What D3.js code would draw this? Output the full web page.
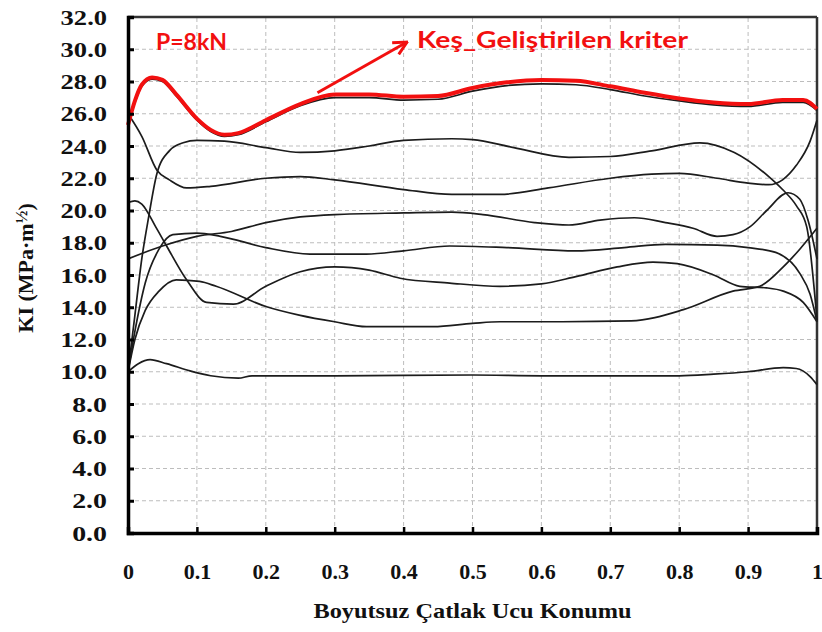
<!DOCTYPE html>
<html><head><meta charset="utf-8">
<script src="https://cdn.jsdelivr.net/npm/d3@7"></script>
<style>body{margin:0;background:#fff}</style>
</head><body><svg id="c" width="822" height="632"></svg>
<script>
// ---------- data ----------
const xTicks = [0,0.1,0.2,0.3,0.4,0.5,0.6,0.7,0.8,0.9,1];
const xTickLabels = ["0","0.1","0.2","0.3","0.4","0.5","0.6","0.7","0.8","0.9","1"];
const yTicks = [0,2,4,6,8,10,12,14,16,18,20,22,24,26,28,30,32];
const yTickLabels = ["0.0","2.0","4.0","6.0","8.0","10.0","12.0","14.0","16.0","18.0","20.0","22.0","24.0","26.0","28.0","30.0","32.0"];

// red envelope: "Keş_Geliştirilen kriter"
const envelope = [[0,25.3],[0.01,26.8],[0.02,27.8],[0.035,28.25],[0.05,28.1],[0.07,27.2],[0.1,25.7],[0.12,25.0],[0.14,24.7],[0.16,24.8],[0.2,25.6],[0.25,26.6],[0.3,27.2],[0.35,27.2],[0.4,27.05],[0.45,27.1],[0.5,27.6],[0.55,27.95],[0.6,28.1],[0.65,28.05],[0.7,27.7],[0.75,27.3],[0.8,26.95],[0.85,26.7],[0.9,26.6],[0.95,26.85],[0.98,26.85],[1,26.3]];
// black curves
const curveA = [[0,25.4],[0.01,26.7],[0.02,27.7],[0.035,28.15],[0.05,28.0],[0.07,27.1],[0.1,25.6],[0.12,24.9],[0.14,24.6],[0.16,24.7],[0.2,25.5],[0.25,26.5],[0.3,27.0],[0.35,27.0],[0.4,26.85],[0.45,26.9],[0.5,27.4],[0.55,27.75],[0.6,27.85],[0.65,27.8],[0.7,27.5],[0.75,27.1],[0.8,26.8],[0.85,26.55],[0.9,26.45],[0.95,26.7],[0.98,26.7],[1,26.2]];
const curveB = [[0,26.0],[0.02,24.6],[0.042,22.5],[0.06,21.9],[0.085,21.4],[0.12,21.5],[0.2,22.0],[0.25,22.1],[0.3,21.9],[0.4,21.3],[0.47,21.0],[0.54,21.0],[0.61,21.4],[0.7,22.0],[0.76,22.25],[0.8,22.3],[0.855,22.0],[0.9,21.7],[0.93,21.6],[0.95,21.9],[0.97,22.8],[0.99,24.3],[1,25.6]];
const curveC = [[0,10.0],[0.01,13.5],[0.02,17.0],[0.03,19.6],[0.042,22.3],[0.06,23.7],[0.08,24.2],[0.1,24.35],[0.14,24.3],[0.2,23.9],[0.25,23.6],[0.3,23.7],[0.35,24.0],[0.4,24.35],[0.47,24.45],[0.5,24.4],[0.56,23.9],[0.64,23.3],[0.7,23.35],[0.76,23.7],[0.83,24.2],[0.88,23.6],[0.93,22.1],[0.95,21.3],[0.97,20.3],[0.985,19.0],[1,13.2]];
const curveD = [[0,17.0],[0.05,17.8],[0.1,18.4],[0.15,18.7],[0.2,19.25],[0.25,19.6],[0.3,19.75],[0.4,19.85],[0.47,19.9],[0.515,19.75],[0.59,19.25],[0.64,19.1],[0.685,19.4],[0.735,19.55],[0.78,19.25],[0.82,18.9],[0.855,18.4],[0.878,18.5],[0.903,19.0],[0.927,20.0],[0.958,21.1],[0.975,20.7],[0.987,19.4],[1,17.0]];
const curveE = [[0,10.0],[0.01,12.5],[0.025,15.5],[0.045,17.6],[0.065,18.5],[0.1,18.6],[0.134,18.4],[0.2,17.7],[0.264,17.3],[0.346,17.3],[0.4,17.5],[0.467,17.8],[0.55,17.7],[0.65,17.5],[0.72,17.7],[0.78,17.9],[0.855,17.85],[0.9,17.7],[0.94,17.4],[0.975,16.1],[0.99,14.8],[1,13.1]];
const curveF = [[0,20.5],[0.01,20.6],[0.02,20.4],[0.04,19.0],[0.056,17.8],[0.085,15.7],[0.114,14.3],[0.153,14.2],[0.2,15.3],[0.25,16.2],[0.3,16.5],[0.35,16.3],[0.395,15.8],[0.467,15.5],[0.54,15.3],[0.6,15.45],[0.65,15.9],[0.71,16.5],[0.762,16.8],[0.797,16.7],[0.85,16.0],[0.888,15.3],[0.927,15.2],[0.951,15.0],[0.98,14.3],[1,13.1]];
const curveG = [[0,10.0],[0.01,12.0],[0.025,13.8],[0.045,15.0],[0.07,15.7],[0.104,15.6],[0.128,15.3],[0.2,14.05],[0.25,13.5],[0.3,13.1],[0.346,12.8],[0.443,12.8],[0.5,13.0],[0.54,13.1],[0.63,13.1],[0.73,13.15],[0.806,13.85],[0.878,15.0],[0.917,15.3],[0.951,16.5],[0.975,17.6],[1,18.9]];
const curveH = [[0,10.0],[0.015,10.5],[0.032,10.75],[0.056,10.5],[0.09,10.05],[0.12,9.75],[0.16,9.6],[0.18,9.75],[0.3,9.75],[0.5,9.8],[0.6,9.75],[0.8,9.75],[0.85,9.85],[0.9,10.0],[0.951,10.25],[0.97,10.2],[0.99,9.7],[1,9.2]];
const blackCurves = [curveA,curveB,curveC,curveD,curveE,curveF,curveG,curveH];

const loadLabel = "P=8kN";
const seriesLabel = "Keş_Geliştirilen kriter";
const arrowFrom = [0.275, 27.3];
const arrowTo = [0.405, 30.45];
const xTitle = "Boyutsuz Çatlak Ucu Konumu";

// ---------- chart ----------
const W = 822, H = 632;
const m = {left:128, right:5, top:17, bottom:99};
const svg = d3.select("#c");
const x = d3.scaleLinear().domain([0,1]).range([m.left, W - m.right]);
const y = d3.scaleLinear().domain([0,32]).range([H - m.bottom, m.top]);

// grid
const grid = svg.append("g").attr("stroke","#bdbdbd").attr("stroke-width",1).attr("stroke-dasharray","4,3");
grid.selectAll(".gx").data(xTicks.slice(1,-1)).join("line")
  .attr("x1",d=>x(d)).attr("x2",d=>x(d)).attr("y1",y(0)).attr("y2",y(32));
grid.selectAll(".gy").data(yTicks.slice(1,-1)).join("line")
  .attr("x1",x(0)).attr("x2",x(1)).attr("y1",d=>y(d)).attr("y2",d=>y(d));

// frame top/right
svg.append("line").attr("x1",x(0)).attr("x2",x(1)).attr("y1",y(32)).attr("y2",y(32)).attr("stroke","#333").attr("stroke-width",2.5);
svg.append("line").attr("x1",x(1)).attr("x2",x(1)).attr("y1",y(32)).attr("y2",y(0)).attr("stroke","#333").attr("stroke-width",2.5);

// curves
const line = d3.line().x(d=>x(d[0])).y(d=>y(d[1])).curve(d3.curveMonotoneX);
svg.append("g").selectAll("path").data(blackCurves).join("path")
  .attr("d",line).attr("fill","none").attr("stroke","#1c1c1c").attr("stroke-width",1.7);
svg.append("path").datum(envelope).attr("d",line).attr("fill","none")
  .attr("stroke","#f21010").attr("stroke-width",4).attr("stroke-linejoin","round");

// axes
const yAxis = d3.axisLeft(y).tickValues(yTicks).tickFormat((d,i)=>yTickLabels[i]).tickSize(-6).tickPadding(21);
const gy = svg.append("g").attr("transform",`translate(${m.left},0)`).call(yAxis);
gy.select(".domain").attr("stroke","#000").attr("stroke-width",3.5);
gy.selectAll(".tick line").attr("stroke","#000").attr("stroke-width",3);
gy.selectAll(".tick text").attr("font-family","'Liberation Serif', 'Times New Roman', serif")
  .attr("font-weight","bold").attr("font-size",22).attr("fill","#111")
  .attr("textLength",function(){return this.textContent.length*11.6;}).attr("lengthAdjust","spacingAndGlyphs");

const xAxis = d3.axisBottom(x).tickValues(xTicks).tickFormat((d,i)=>xTickLabels[i]).tickSize(-6).tickPadding(30);
const gx = svg.append("g").attr("transform",`translate(0,${H-m.bottom})`).call(xAxis);
gx.select(".domain").attr("stroke","#000").attr("stroke-width",3.5);
gx.selectAll(".tick line").attr("stroke","#000").attr("stroke-width",2.5);
gx.selectAll(".tick text").attr("font-family","'Liberation Serif', 'Times New Roman', serif")
  .attr("font-weight","bold").attr("font-size",22).attr("fill","#111");

// axis titles
svg.append("text").attr("x",(x(0)+x(1))/2).attr("y",618).attr("text-anchor","middle")
  .attr("font-family","'Liberation Serif', 'Times New Roman', serif").attr("font-weight","bold")
  .attr("font-size",21).attr("fill","#111").attr("textLength",318).attr("lengthAdjust","spacingAndGlyphs")
  .text(xTitle);
const yt = svg.append("text").attr("transform","translate(33,268) rotate(-90)").attr("text-anchor","middle")
  .attr("font-family","'Liberation Serif', 'Times New Roman', serif").attr("font-weight","bold")
  .attr("font-size",22).attr("fill","#111");
yt.append("tspan").text("KI (MPa·m");
yt.append("tspan").attr("font-size",17).attr("dy",-6).text("½");
yt.append("tspan").attr("dy",6).text(")");

// annotations
svg.append("text").attr("x",156).attr("y",50).attr("font-family","Lato, 'Open Sans', sans-serif")
  .attr("font-weight","bold").attr("font-size",23).attr("fill","#f21010").text(loadLabel);
svg.append("text").attr("x",417).attr("y",48).attr("font-family","Lato, 'Open Sans', sans-serif")
  .attr("font-weight","bold").attr("font-size",23).attr("fill","#f21010")
  .attr("textLength",271).attr("lengthAdjust","spacingAndGlyphs").text(seriesLabel);

const defs = svg.append("defs");
defs.append("marker").attr("id","ah").attr("viewBox","0 0 12 12").attr("refX",11).attr("refY",6)
  .attr("markerWidth",16).attr("markerHeight",16).attr("markerUnits","userSpaceOnUse").attr("orient","auto")
  .append("path").attr("d","M1,1 L11,6 L1,11").attr("fill","none").attr("stroke","#f21010").attr("stroke-width",2.2);
svg.append("line").attr("x1",x(arrowFrom[0])).attr("y1",y(arrowFrom[1]))
  .attr("x2",x(arrowTo[0])).attr("y2",y(arrowTo[1]))
  .attr("stroke","#f21010").attr("stroke-width",3).attr("marker-end","url(#ah)");
</script></body></html>
